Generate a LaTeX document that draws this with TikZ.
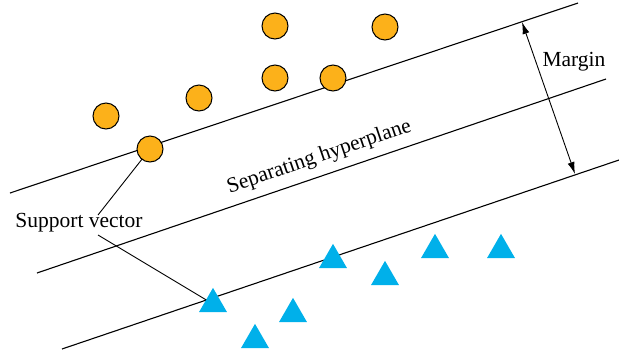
\documentclass[tikz,border=0pt]{standalone}
\usepackage{fontspec}
\setmainfont{Liberation Serif}
\usetikzlibrary{shapes.geometric,arrows.meta}
\definecolor{dotorange}{RGB}{252,177,26}
\definecolor{tricyan}{RGB}{0,176,234}
\begin{document}
\begin{tikzpicture}[x=1pt,y=-1pt,
  plane/.style={line width=1.1pt},
  leader/.style={line width=0.9pt},
  dot/.style={circle,draw=black,line width=1pt,fill=dotorange,minimum size=26pt,inner sep=0pt,outer sep=0pt},
  tri/.style={regular polygon,regular polygon sides=3,fill=tricyan,draw=none,minimum size=32.3pt,inner sep=0pt,outer sep=0pt},
  lbl/.style={font=\fontsize{21.5}{25}\selectfont,inner sep=0pt}]
\useasboundingbox (0,0) rectangle (619,357);
% hyperplanes
\coordinate (a1) at (10,193); \coordinate (b1) at (578,3);
\coordinate (a2) at (37,273); \coordinate (b2) at (606,79);
\coordinate (a3) at (62,349); \coordinate (b3) at (619,160);
\draw[plane] (a1) -- (b1);
\draw[plane] (a2) -- (b2);
\draw[plane] (a3) -- (b3);
% margin arrow
\coordinate (m1) at (522,22); \coordinate (m2) at (575,174);
\draw[line width=0.9pt,{Latex[length=12pt,width=7pt]}-{Latex[length=12pt,width=7pt]}] (m1) -- (m2);
\node[lbl] (margin) at (574,62) {Margin};
% separating hyperplane label
\node[lbl,anchor=base,rotate=18.8] (sep) at (321,162) {Separating hyperplane};
% labels
\node[lbl] (sv) at (79,223) {Support vector};
\coordinate (svt) at (98,215);
\coordinate (svb) at (98,235);
% circles
\node[dot] (c1) at (106,116) {};
\node[dot] (c2) at (199,98) {};
\node[dot] (c3) at (275,26) {};
\node[dot] (c4) at (275,78) {};
\node[dot] (c5) at (150,149) {};
\node[dot] (c6) at (385,27) {};
\node[dot] (c7) at (333,78) {};
% triangles
\node[tri] (t1) at (213,304) {};
\node[tri] (t2) at (293,314) {};
\node[tri] (t3) at (255,340) {};
\node[tri] (t4) at (333,260) {};
\node[tri] (t5) at (385,277) {};
\node[tri] (t6) at (435,250) {};
\node[tri] (t7) at (501,250) {};
% leaders
\draw[leader] (svt) -- (c5);
\draw[leader] (svb) -- (t1);
\end{tikzpicture}
\end{document}
